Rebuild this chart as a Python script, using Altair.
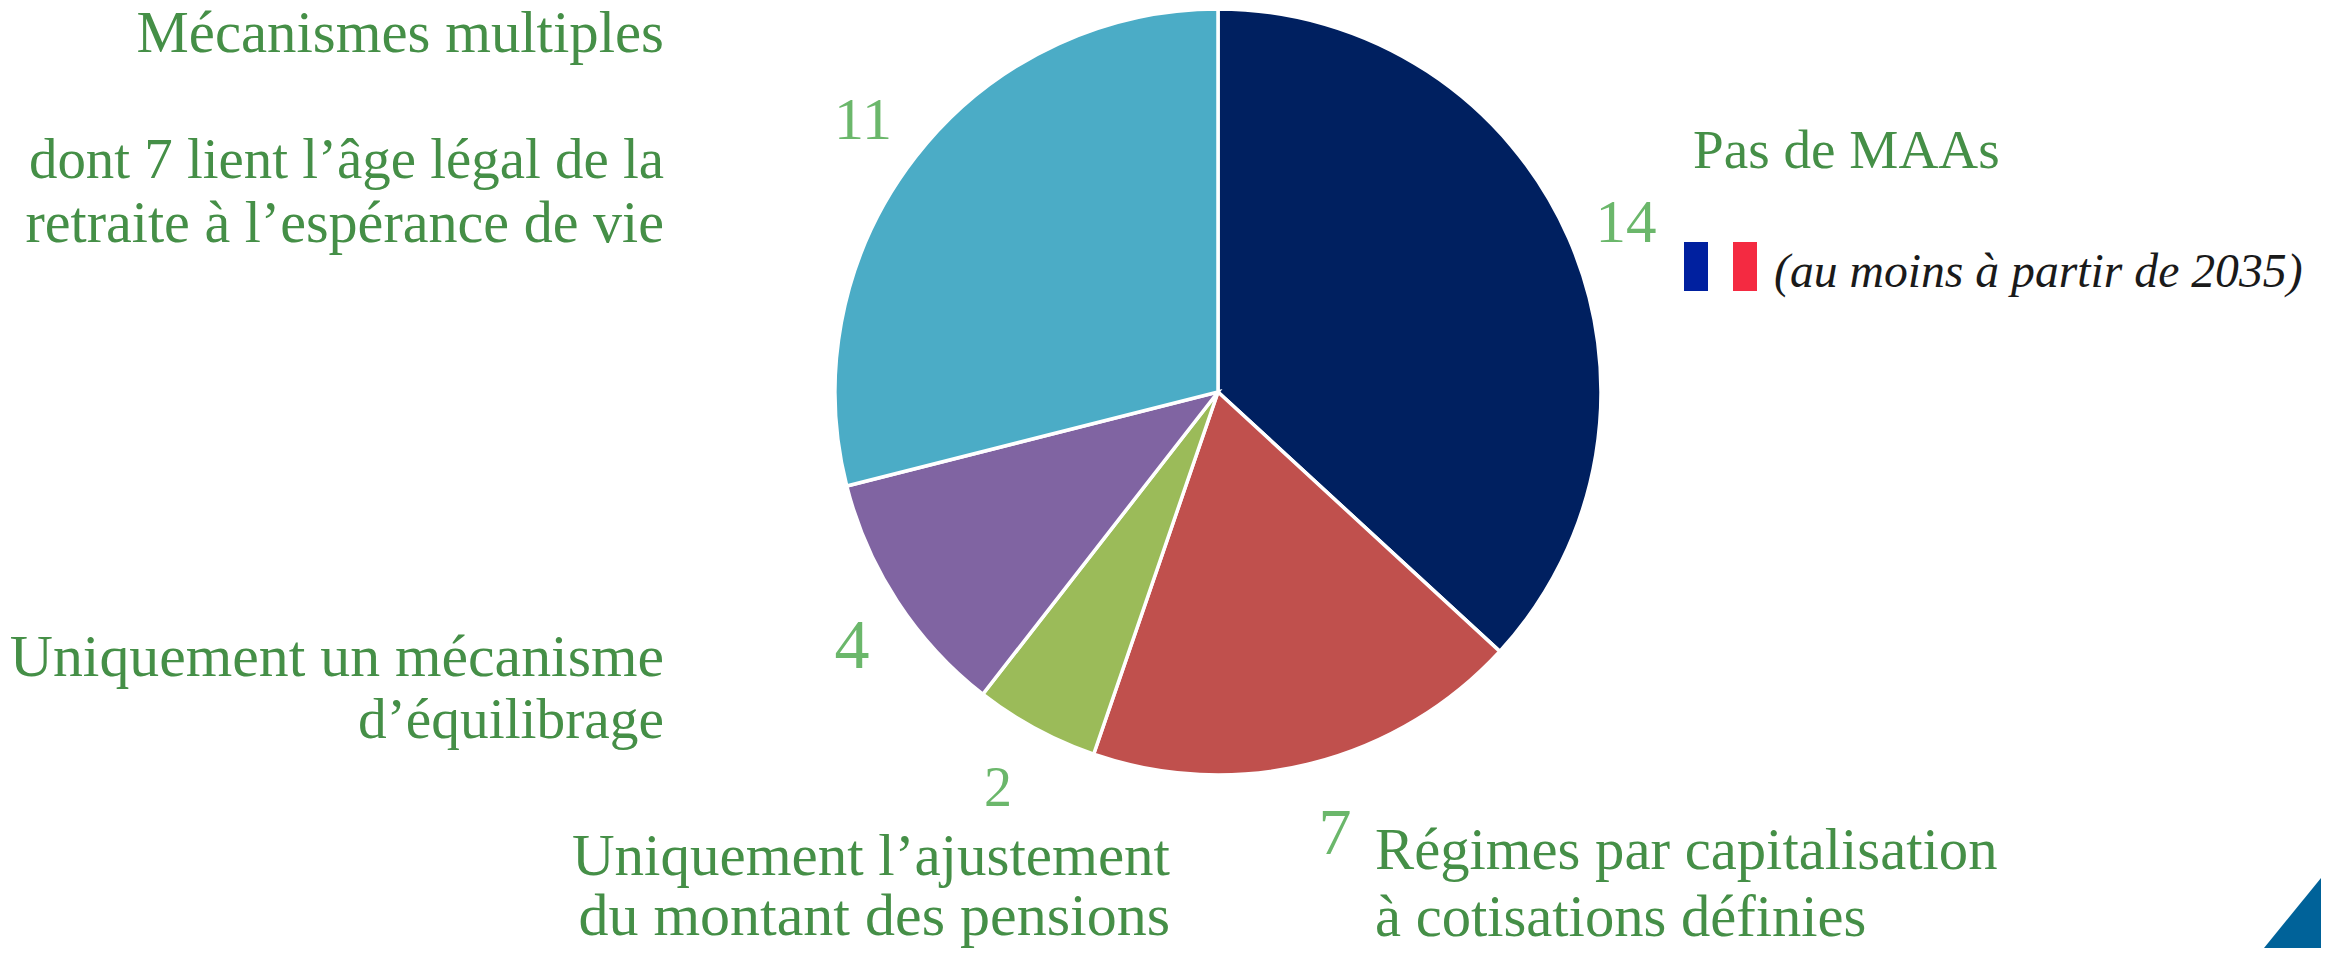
import altair as alt
import pandas as pd

categories = ["Pas de MAAs", "Régimes par capitalisation", "Ajustement des pensions", "Mécanisme d'équilibrage", "Mécanismes multiples"]
values = [14, 7, 2, 4, 11]
colors = ["#002060", "#C0504D", "#9BBB59", "#8064A2", "#4BACC6"]

W, H = 2313, 940
FONT = "Liberation Serif"
DARK = "#458F47"
LIGHT = "#6BB76B"

def fx(x):
    return x - 8

def fy(y):
    return y - 8

def txt(s, x, y, size=60, align="left", color=DARK, style="normal"):
    return alt.Chart(pd.DataFrame({"t": [s]})).mark_text(
        align=align, baseline="alphabetic", font=FONT, fontSize=size, color=color, fontStyle=style
    ).encode(x=alt.value(fx(x)), y=alt.value(fy(y)), text="t:N")

def box(x0, x1, y0, y1, color):
    return alt.Chart(pd.DataFrame({"a": [0]})).mark_rect(color=color).encode(
        x=alt.value(fx(x0)), x2=alt.value(fx(x1)), y=alt.value(fy(y0)), y2=alt.value(fy(y1))
    )

pie_df = pd.DataFrame({"cat": categories, "v": values, "i": range(len(values))})
pie = alt.Chart(pie_df).mark_arc(radius=383, stroke="white", strokeWidth=3.5).encode(
    theta=alt.Theta("v:Q", stack=True),
    order=alt.Order("i:Q"),
    color=alt.Color("cat:N", scale=alt.Scale(domain=categories, range=colors), legend=None),
    x=alt.value(fx(1218)),
    y=alt.value(fy(392)),
)

corner = alt.Chart(pd.DataFrame({"px": [fx(2264), fx(2321)], "py": [fy(948), fy(878)], "base": [fy(948), fy(948)]})).mark_area(
    color="#006299", opacity=1
).encode(
    x=alt.X("px:Q", scale=alt.Scale(domain=[0, W], range=[0, W]), axis=None),
    y=alt.Y("py:Q", scale=alt.Scale(domain=[0, H], range=[0, H]), axis=None),
    y2="base:Q",
)

layout = [
    ("Mécanismes multiples", 664, 52, "right", 58.8),
    ("dont 7 lient l’âge légal de la", 664, 178, "right", 56.9),
    ("retraite à l’espérance de vie", 664, 242, "right", 58.1),
    ("Uniquement un mécanisme", 664, 676, "right", 59.8),
    ("d’équilibrage", 664, 738, "right", 57.4),
    ("Uniquement l’ajustement", 1170, 875, "right", 59),
    ("du montant des pensions", 1170, 935, "right", 60),
    ("Régimes par capitalisation", 1375, 869, "left", 58.7),
    ("à cotisations définies", 1375, 936, "left", 58.6),
    ("Pas de MAAs", 1693, 168, "left", 55.2),
]
number_pos = [(1626, 242, 61), (1335, 854, 66), (998, 806, 56), (852, 668, 70), (863, 139, 60)]

layers = [pie, corner, box(1684, 1708, 242, 291, "#00209F"), box(1733, 1757, 242, 291, "#F42A41")]
layers += [txt(s, x, y, align=a, size=z) for s, x, y, a, z in layout]
layers += [txt(str(v), x, y, size=s, align="center", color=LIGHT) for v, (x, y, s) in zip(values, number_pos)]
layers.append(txt("(au moins à partir de 2035)", 1774, 287, size=47.7, color="#1A1A1A", style="italic"))

chart = alt.layer(*layers).properties(
    width=W, height=H, padding=0, background="white",
    autosize=alt.AutoSizeParams(type="none", contains="content"),
).configure_view(stroke=None)
chart.save("out.html", embed_options={"renderer": "svg", "actions": False})
